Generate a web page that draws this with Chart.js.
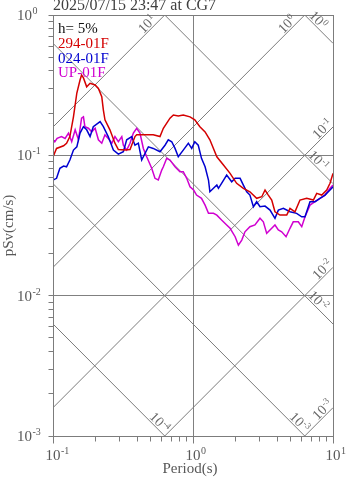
<!DOCTYPE html>
<html>
<head>
<meta charset="utf-8">
<script src="https://cdn.jsdelivr.net/npm/chart.js@4.4.1/dist/chart.umd.min.js"></script>
<style>
html, body { margin: 0; padding: 0; background: #ffffff; overflow: hidden; }
canvas { display: block; }
</style>
</head>
<body>
<canvas id="spectrum" width="347" height="478"></canvas>
<script>
// ---- text ----
const titleText = '2025/07/15 23:47 at CG7';
const dampingText = 'h= 5%';
const seriesNames = ['294-01F', '024-01F', 'UP-01F'];
const xAxisTitle = 'Period(s)';
const yAxisTitle = 'pSv(cm/s)';

// ---- pseudo velocity response spectra (period s, pSv cm/s) ----
const periods294 = [0.100,0.106,0.119,0.125,0.132,0.140,0.148,0.156,0.160,0.165,0.174,0.184,0.200,0.211,0.223,0.229,0.235,0.255,0.277,0.293,0.327,0.355,0.385,0.396,0.520,0.581,0.614,0.685,0.724,0.785,0.852,0.952,1.03,1.12,1.22,1.32,1.48,1.65,1.84,2.05,2.29,2.55,2.85,3.10,3.27,3.45,3.65,3.85,4.18,4.67,4.93,5.35,5.81,6.49,7.24,7.65,8.31,9.02,9.52,10.0];
const psv294 = [0.0973,0.112,0.117,0.122,0.136,0.188,0.278,0.344,0.374,0.356,0.308,0.326,0.317,0.300,0.262,0.210,0.179,0.152,0.122,0.110,0.109,0.110,0.136,0.140,0.140,0.136,0.156,0.184,0.194,0.191,0.194,0.188,0.179,0.160,0.147,0.129,0.0977,0.0853,0.0744,0.0632,0.0582,0.0550,0.0494,0.0507,0.0566,0.0521,0.0480,0.0396,0.0375,0.0375,0.0419,0.0396,0.0480,0.0494,0.0480,0.0536,0.0521,0.0566,0.0632,0.0744];

const periods024 = [0.100,0.106,0.112,0.119,0.125,0.132,0.140,0.148,0.156,0.165,0.174,0.184,0.194,0.217,0.229,0.248,0.270,0.293,0.318,0.336,0.365,0.385,0.407,0.430,0.454,0.480,0.520,0.581,0.631,0.666,0.705,0.744,0.785,0.852,0.926,0.979,1.03,1.09,1.15,1.22,1.29,1.32,1.40,1.48,1.52,1.60,1.74,1.89,2.00,2.17,2.29,2.42,2.55,2.70,2.85,3.01,3.27,3.55,3.85,4.07,4.42,4.93,5.50,5.98,6.31,6.85,7.44,8.07,8.77,9.52,10.0];
const psv024 = [0.0667,0.0686,0.0808,0.0839,0.0829,0.0926,0.109,0.115,0.144,0.160,0.152,0.136,0.160,0.174,0.160,0.136,0.109,0.102,0.106,0.129,0.136,0.118,0.122,0.0926,0.103,0.115,0.112,0.106,0.118,0.129,0.125,0.112,0.0977,0.109,0.122,0.112,0.125,0.118,0.0952,0.0829,0.0667,0.0550,0.0582,0.0614,0.0582,0.0632,0.0724,0.0648,0.0686,0.0686,0.0614,0.0550,0.0521,0.0430,0.0467,0.0430,0.0435,0.0407,0.0356,0.0407,0.0419,0.0396,0.0386,0.0365,0.0365,0.0467,0.0467,0.0494,0.0521,0.0566,0.0597];

const periodsUP = [0.100,0.103,0.107,0.115,0.122,0.129,0.136,0.144,0.152,0.160,0.165,0.169,0.179,0.189,0.200,0.211,0.223,0.235,0.248,0.263,0.277,0.293,0.310,0.318,0.336,0.355,0.375,0.396,0.418,0.442,0.467,0.507,0.535,0.565,0.598,0.614,0.649,0.685,0.744,0.807,0.852,0.902,0.952,1.01,1.06,1.15,1.22,1.29,1.40,1.48,1.60,1.74,1.84,2.00,2.11,2.23,2.35,2.55,2.77,3.01,3.18,3.36,3.65,3.85,4.07,4.30,4.62,4.93,5.20,5.65,5.98,6.31,6.85,7.44,8.07,8.77,9.52,10.0];
const psvUP = [0.129,0.125,0.132,0.136,0.132,0.144,0.125,0.152,0.129,0.184,0.188,0.160,0.156,0.147,0.156,0.129,0.122,0.140,0.132,0.122,0.136,0.125,0.136,0.118,0.109,0.122,0.144,0.156,0.144,0.112,0.0977,0.0808,0.0686,0.0667,0.0785,0.0829,0.0952,0.0926,0.0829,0.0764,0.0764,0.0686,0.0597,0.0566,0.0521,0.0494,0.0442,0.0386,0.0386,0.0375,0.0346,0.0319,0.0302,0.0263,0.0229,0.0249,0.0285,0.0310,0.0319,0.0356,0.0336,0.0278,0.0302,0.0319,0.0294,0.0285,0.0263,0.0302,0.0336,0.0336,0.0310,0.0365,0.0442,0.0467,0.0494,0.0521,0.0582,0.0614];

// ---- tripartite guide levels (powers of ten) ----
const accelExps = [1, 0, -1, -2, -3];   // Sa, cm/s^2
const dispExps = [0, -1, -2, -3, -4];   // Sd, cm

// ---- axis decades ----
const xTickExps = [-1, 0, 1];
const yTickExps = [0, -1, -2, -3];

// ---------------------------------------------------------------
const FONT = '"Liberation Serif", "Times New Roman", serif';
const TWO_PI = 2 * Math.PI;
const X_MIN = 0.1, X_MAX = 10, Y_MIN = 0.001, Y_MAX = 1;
const GUIDE_COLOR = '#7c7c7c';
const TEXT_GREY = '#585858';
const seriesColors = ['#d40000', '#0000d0', '#d000d0'];

const pairs = (xs, ys) => xs.map((x, i) => ({ x: x, y: ys[i] }));

const spectrumSets = [
  pairs(periods294, psv294),
  pairs(periods024, psv024),
  pairs(periodsUP, psvUP)
].map((d, i) => ({
  label: seriesNames[i], data: d, borderColor: seriesColors[i],
  borderWidth: 1.5, pointRadius: 0, tension: 0, order: 0, fill: false
}));

// constant acceleration: pSv = Sa*T/(2*pi) ; constant displacement: pSv = 2*pi*Sd/T
const accelPsv = (sa, t) => sa * t / TWO_PI;
const dispPsv = (sd, t) => TWO_PI * sd / t;

const guideSets = [];
accelExps.forEach(e => {
  const sa = Math.pow(10, e);
  guideSets.push({ data: [X_MIN, X_MAX].map(t => ({ x: t, y: accelPsv(sa, t) })),
    borderColor: GUIDE_COLOR, borderWidth: 1, pointRadius: 0, order: 2, fill: false });
});
dispExps.forEach(e => {
  const sd = Math.pow(10, e);
  guideSets.push({ data: [X_MIN, X_MAX].map(t => ({ x: t, y: dispPsv(sd, t) })),
    borderColor: GUIDE_COLOR, borderWidth: 1, pointRadius: 0, order: 2, fill: false });
});

function logTicks(lo, hi) {
  const out = [];
  for (let e = Math.round(Math.log10(lo)); e < Math.round(Math.log10(hi)); e++) {
    for (let m = 1; m < 10; m++) out.push({ value: m * Math.pow(10, e) });
  }
  out.push({ value: hi });
  return out;
}
const isDecade = v => Math.abs(Math.log10(v) - Math.round(Math.log10(v))) < 1e-9;

// "10" with a raised exponent
function drawPow(ctx, exp, x, y, size, supSize, rise, align) {
  ctx.textAlign = 'left';
  ctx.textBaseline = 'alphabetic';
  ctx.font = size + 'px ' + FONT;
  const wb = ctx.measureText('10').width;
  ctx.font = supSize + 'px ' + FONT;
  const ws = ctx.measureText(String(exp)).width;
  let x0 = x;
  if (align === 'center') x0 = x - (wb + ws) / 2;
  else if (align === 'base') x0 = x - wb / 2;
  ctx.font = size + 'px ' + FONT;
  ctx.fillText('10', x0, y);
  ctx.font = supSize + 'px ' + FONT;
  ctx.fillText(String(exp), x0 + wb + 0.5, y - rise);
}

const decorPlugin = {
  id: 'tripartiteDecor',
  afterDatasetsDraw(chart) {
    const ctx = chart.ctx;
    const a = chart.chartArea;
    const xs = chart.scales.x, ys = chart.scales.y;
    const L = Math.floor(a.left) + 0.5, R = Math.floor(a.right) + 0.5;
    const T = Math.floor(a.top) + 0.5, B = Math.floor(a.bottom) + 0.5;
    ctx.save();

    // frame
    ctx.strokeStyle = '#7c7c7c';
    ctx.lineWidth = 1;
    ctx.strokeRect(L, T, R - L, B - T);

    // outward tick marks
    ctx.beginPath();
    xs.ticks.forEach(tk => {
      const px = Math.floor(xs.getPixelForValue(tk.value)) + 0.5;
      const len = isDecade(tk.value) ? 7 : 5;
      ctx.moveTo(px, B); ctx.lineTo(px, B + len);
    });
    ys.ticks.forEach(tk => {
      const py = Math.floor(ys.getPixelForValue(tk.value)) + 0.5;
      ctx.moveTo(L, py); ctx.lineTo(L - 5, py);
    });
    ctx.stroke();

    // tick labels
    ctx.fillStyle = TEXT_GREY;
    xTickExps.forEach(e => {
      const px = xs.getPixelForValue(Math.pow(10, e));
      drawPow(ctx, e, px, a.bottom + 24, 15, 10, 6, 'base');
    });
    yTickExps.forEach(e => {
      const py = ys.getPixelForValue(Math.pow(10, e));
      drawPow(ctx, e, 17, py + 5, 15, 10, 6, 'left');
    });

    // axis titles
    ctx.font = '15px ' + FONT;
    ctx.textAlign = 'center';
    ctx.textBaseline = 'alphabetic';
    ctx.fillText(xAxisTitle, (a.left + a.right) / 2 - 3, a.bottom + 37);
    ctx.save();
    ctx.translate(13, (a.top + a.bottom) / 2);
    ctx.rotate(-Math.PI / 2);
    ctx.fillText(yAxisTitle, 0, 0);
    ctx.restore();

    // title
    ctx.fillStyle = '#404040';
    ctx.font = '16px ' + FONT;
    ctx.textAlign = 'left';
    ctx.fillText(titleText, a.left, 10);

    // legend block
    ctx.font = '15px ' + FONT;
    ctx.fillStyle = '#111111';
    ctx.fillText(dampingText, a.left + 5, a.top + 18);
    seriesNames.forEach((n, i) => {
      ctx.fillStyle = seriesColors[i];
      ctx.fillText(n, a.left + 5, a.top + 33 + i * 14.5);
    });

    // guide labels, written along each line near where it leaves the plot
    ctx.fillStyle = '#6a6a6a';
    const labelAt = (fn, level, t, exp) => {
      const p0x = xs.getPixelForValue(t), p0y = ys.getPixelForValue(fn(level, t));
      const p1x = xs.getPixelForValue(t * 1.2), p1y = ys.getPixelForValue(fn(level, t * 1.2));
      const ang = Math.atan2(p1y - p0y, p1x - p0x);
      ctx.save();
      ctx.translate(p0x, p0y);
      ctx.rotate(ang);
      drawPow(ctx, exp, 0, -6.5 + 0.34 * 14, 14, 9, 5, 'center');
      ctx.restore();
    };
    accelExps.forEach(e => {
      const sa = Math.pow(10, e);
      const t = Math.min(0.8 * TWO_PI / sa, 9);
      labelAt(accelPsv, sa, t, e);
    });
    dispExps.forEach(e => {
      const sd = Math.pow(10, e);
      const t = Math.min(TWO_PI * sd / 0.00117, 7.3);
      labelAt(dispPsv, sd, t, e);
    });
    ctx.restore();
  }
};

new Chart(document.getElementById('spectrum').getContext('2d'), {
  type: 'line',
  data: { datasets: spectrumSets.concat(guideSets) },
  options: {
    responsive: false,
    animation: false,
    devicePixelRatio: 1,
    parsing: true,
    layout: { padding: { top: 15, right: 14, left: 0, bottom: 0 } },
    plugins: { legend: { display: false }, tooltip: { enabled: false }, title: { display: false } },
    scales: {
      x: {
        type: 'logarithmic', min: X_MIN, max: X_MAX,
        afterBuildTicks: s => { s.ticks = logTicks(X_MIN, X_MAX); },
        afterFit: s => { s.height = 42; },
        ticks: { display: false },
        border: { display: false },
        grid: { drawTicks: false, lineWidth: 1,
          color: c => (c.tick && isDecade(c.tick.value)) ? '#808080' : 'rgba(0,0,0,0)' }
      },
      y: {
        type: 'logarithmic', min: Y_MIN, max: Y_MAX,
        afterBuildTicks: s => { s.ticks = logTicks(Y_MIN, Y_MAX); },
        afterFit: s => { s.width = 53; },
        ticks: { display: false },
        border: { display: false },
        grid: { drawTicks: false, lineWidth: 1,
          color: c => (c.tick && isDecade(c.tick.value)) ? '#808080' : 'rgba(0,0,0,0)' }
      }
    }
  },
  plugins: [decorPlugin]
});
</script>
</body>
</html>
